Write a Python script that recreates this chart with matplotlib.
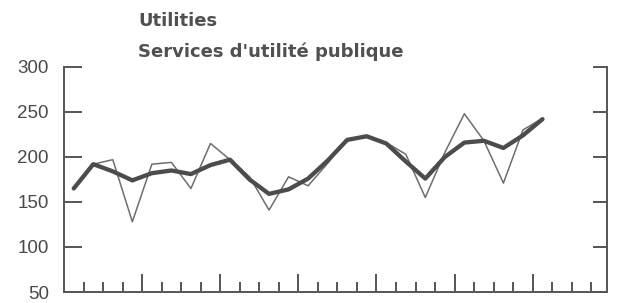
import numpy as np
import matplotlib
matplotlib.use('Agg')
import matplotlib.pyplot as plt
from matplotlib.ticker import FixedLocator

# quarterly index, thin = raw values, thick = smoothed trend
quarters = np.arange(25) + 0.5
raw = [165, 192, 197, 128, 192, 194, 165, 215, 197, 178, 141, 178, 168,
       193, 220, 223, 216, 203, 155, 205, 248, 218, 171, 230, 243]
trend = [165, 192, 184, 174, 182, 185, 181, 191, 197, 175, 159, 164, 176,
         196, 219, 223, 215, 195, 176, 200, 216, 218, 210, 224, 242]

y_ticks = [50, 100, 150, 200, 250, 300]
year_ticks = [4, 8, 12, 16, 20, 24]
quarter_ticks = [q for q in range(1, 28) if q % 4 != 0]

title_en = 'Utilities'
title_fr = "Services d'utilité publique"

grey = '#555555'

fig = plt.figure(figsize=(6.17, 3.03), dpi=100)
ax = fig.add_axes([0.1037, 0.0363, 0.88, 0.7427])

ax.plot(quarters, raw, color='#6e6e6e', lw=1.1, zorder=2)
ax.plot(quarters, trend, color='#4c4c4c', lw=3.1, solid_capstyle='round',
        solid_joinstyle='round', zorder=3)

ax.set_xlim(0, 27.8)
ax.set_ylim(50, 300)

ax.spines['top'].set_visible(False)
for s in ['left', 'right', 'bottom']:
    ax.spines[s].set_color(grey)
    ax.spines[s].set_linewidth(1.4)

ax.set_yticks(y_ticks)
ax.set_yticklabels([str(v) for v in y_ticks], fontfamily='Liberation Sans',
                   fontsize=13.5, color='#4a4a4a')
ax.tick_params(axis='y', direction='in', left=True, right=False, length=13,
               width=1.4, color=grey, pad=11)

# right side ticks are a bit shorter
ax2 = ax.twinx()
ax2.set_ylim(ax.get_ylim())
ax2.set_yticks(y_ticks)
ax2.tick_params(axis='y', direction='in', length=10, width=1.4, color=grey,
                labelright=False)
for s in ax2.spines.values():
    s.set_visible(False)

ax.xaxis.set_major_locator(FixedLocator(year_ticks))
ax.xaxis.set_minor_locator(FixedLocator(quarter_ticks))
ax.tick_params(axis='x', which='major', direction='in', length=13, width=1.4,
               color=grey, labelbottom=False)
ax.tick_params(axis='x', which='minor', direction='in', length=7, width=1.4,
               color=grey)

fig.text(0.2237, 1 - 26 / 303, title_en, fontfamily='DejaVu Sans',
         fontweight='bold', fontsize=13, color='#505050', va='baseline')
fig.text(0.2237, 1 - 57 / 303, title_fr, fontfamily='DejaVu Sans',
         fontweight='bold', fontsize=13, color='#505050', va='baseline')

fig.savefig('out.png', dpi=100, facecolor='white')
